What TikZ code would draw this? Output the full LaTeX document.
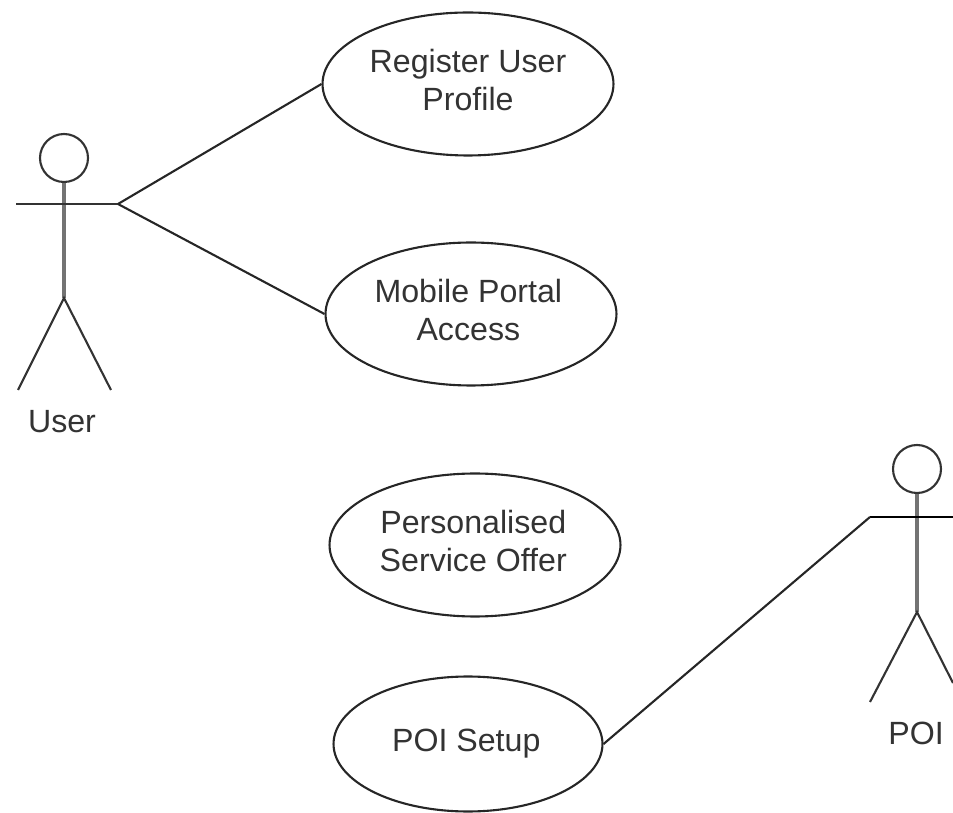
\documentclass[tikz,border=0pt]{standalone}
\usepackage{fontspec}
\setmainfont{Liberation Sans}
\usetikzlibrary{shapes.geometric}
\newcommand{\casetext}[1]{\raisebox{0.07cm}{\begin{tabular}{@{}c@{}}#1\end{tabular}}}
\tikzset{
  usecase/.style={draw=black!85,line width=1.2pt,ellipse,minimum width=5.82cm,minimum height=2.86cm,inner sep=0pt,font=\fontsize{18.3}{21.5}\selectfont,text=black!80},
  conn/.style={draw=black!85,line width=1.2pt},
  limb/.style={draw=black!80,line width=1.2pt},
  spine/.style={draw=black!55,line width=2.4pt},
  head/.style={circle,draw=black!80,line width=1.2pt,minimum size=0.96cm,inner sep=0pt},
  actorlabel/.style={font=\fontsize{18.3}{21.5}\selectfont,text=black!80}
}
\begin{document}
\begin{tikzpicture}[x=0.02cm,y=-0.02cm]
  \useasboundingbox (0,0) rectangle (953,813);
  \node[usecase] (register) at (468,84) {\casetext{Register User\\Profile}};
  \node[usecase] (mobile) at (471,314) {\kern-3pt\casetext{Mobile Portal\\Access}};
  \node[usecase] (offer) at (475,545) {\kern-2pt\casetext{Personalised\\Service Offer}};
  \node[usecase,minimum width=5.38cm,minimum height=2.7cm] (setup) at (468,744) {\kern-2pt\casetext{POI Setup}};
  % user
  \node[head] (userhead) at (64,158) {};
  \coordinate (userhip) at (64,298);
  \coordinate (userleft) at (16,204);
  \coordinate (userright) at (118,204);
  \coordinate (userfootl) at (18,390);
  \coordinate (userfootr) at (111,390);
  \draw[spine] (userhead) -- (userhip);
  \draw[limb] (userleft) -- (userright);
  \draw[limb] (userfootl) -- (userhip) -- (userfootr);
  \node[actorlabel] (userlabel) at (62,422) {User};
  % poi
  \node[head] (poihead) at (917,469) {};
  \coordinate (poihip) at (917,612);
  \coordinate (poileft) at (870,517);
  \coordinate (poiright) at (953,517);
  \coordinate (poifootl) at (870,702);
  \coordinate (poifootr) at (953,683);
  \draw[spine] (poihead) -- (poihip);
  \draw[limb,draw=black,line width=1.5pt] (poileft) -- (poiright);
  \draw[limb] (poifootl) -- (poihip) -- (poifootr);
  \node[actorlabel] (poilabel) at (916,733) {POI};
  % links
  \draw[conn] (userright) -- (register.west);
  \draw[conn] (userright) -- (mobile.west);
  \draw[conn] (setup.east) -- (poileft);
\end{tikzpicture}
\end{document}
